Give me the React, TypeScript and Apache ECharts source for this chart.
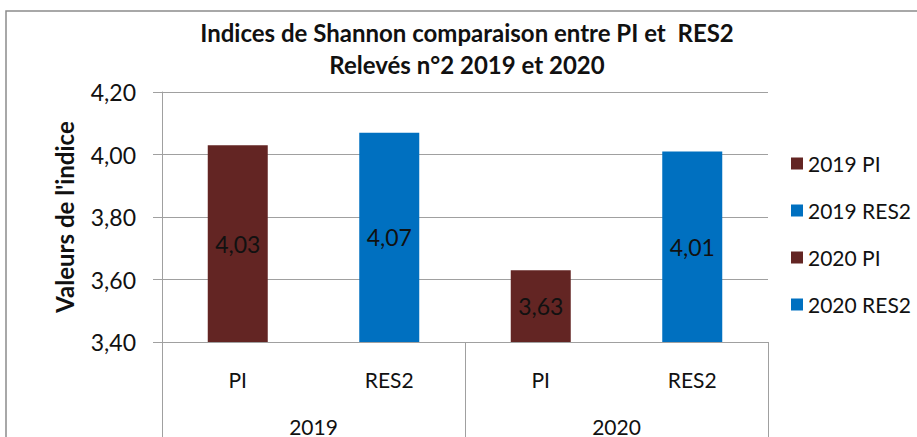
import React, { useEffect, useRef } from "react";
import * as echarts from "echarts";

const categories = ["PI", "RES2", "PI", "RES2"];
const groups = ["2019", "2020"];
const seriesNames = ["2019 PI", "2019 RES2", "2020 PI", "2020 RES2"];
const values = [4.03, 4.07, 3.63, 4.01];
const colors = ["#632523", "#0070C0", "#632523", "#0070C0"];
const yTicks = { min: 3.4, max: 4.2, interval: 0.2 };

const FONT = "Lato, 'Open Sans', sans-serif";
const fmt = (v: number) => v.toFixed(2).replace(".", ",");

export default function App() {
  const ref = useRef<HTMLDivElement>(null);
  useEffect(() => {
    if (!ref.current) return;
    const chart = echarts.init(ref.current, null, { renderer: "svg" });
    const series = seriesNames.map((name, i) => ({
      name,
      type: "bar",
      barWidth: 60,
      barGap: "-100%",
      itemStyle: { color: colors[i] },
      label: {
        show: true,
        position: "inside",
        color: "#111",
        fontSize: 23,
        fontFamily: FONT,
        formatter: (p: any) => fmt(p.value),
      },
      data: categories.map((_, j) => (j === i ? values[i] : "-")),
    }));
    chart.setOption({
      animation: false,
      textStyle: { fontFamily: FONT },
      title: {
        text: "Indices de Shannon comparaison entre PI et  RES2\nRelevés n°2 2019 et 2020",
        left: 467,
        top: 16,
        padding: 0,
        textAlign: "center",
        textStyle: {
          fontSize: 24,
          fontWeight: "bold",
          fontFamily: FONT,
          color: "#111",
          lineHeight: 32,
        },
      },
      legend: {
        orient: "vertical",
        left: 786,
        top: 148,
        itemWidth: 12,
        itemHeight: 12,
        itemGap: 26,
        icon: "rect",
        textStyle: { fontSize: 21, fontFamily: FONT, color: "#111" },
        data: seriesNames,
      },
      grid: { left: 162, right: 149, top: 92, bottom: 92 },
      xAxis: [
        {
          type: "category",
          data: categories,
          axisLine: { lineStyle: { color: "#a0a0a0" } },
          axisTick: { show: false },
          axisLabel: { fontSize: 21, color: "#111", margin: 27, fontFamily: FONT },
        },
        {
          type: "category",
          data: groups,
          position: "bottom",
          axisLine: { show: false },
          axisTick: { show: true, length: 110, lineStyle: { color: "#a0a0a0" } },
          axisLabel: { fontSize: 21, color: "#111", margin: 74, fontFamily: FONT },
        },
      ],
      yAxis: {
        type: "value",
        min: yTicks.min,
        max: yTicks.max,
        interval: yTicks.interval,
        name: "Valeurs de l'indice",
        nameLocation: "middle",
        nameGap: 86,
        nameTextStyle: { fontSize: 24, fontWeight: "bold", color: "#111", fontFamily: FONT },
        axisLine: { show: true, lineStyle: { color: "#a0a0a0" } },
        axisTick: { show: true, length: 9, lineStyle: { color: "#a0a0a0" } },
        splitLine: { lineStyle: { color: "#a0a0a0" } },
        axisLabel: {
          fontSize: 23,
          color: "#111",
          margin: 26,
          fontFamily: FONT,
          formatter: (v: number) => fmt(v),
        },
      },
      graphic: [
        {
          type: "rect",
          shape: { x: 6, y: 11, width: 1000, height: 500 },
          style: { fill: "none", stroke: "#8c8c8c", lineWidth: 1.5 },
          silent: true,
        },
      ],
      series,
    });
    return () => chart.dispose();
  }, []);
  return (
    <div
      ref={ref}
      style={{ position: "absolute", left: 0, top: 0, width: 917, height: 437, background: "#fff" }}
    />
  );
}
